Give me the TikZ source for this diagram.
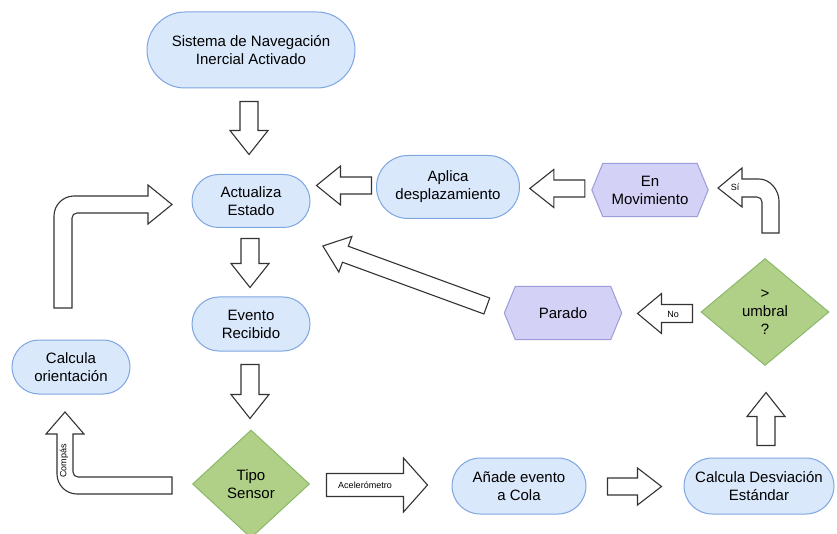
\documentclass[tikz,border=0pt]{standalone}
\usepackage{fontspec}
\setmainfont{Liberation Sans}
\usetikzlibrary{shapes.misc,shapes.geometric,calc,backgrounds}

\definecolor{bluefill}{HTML}{DAE8FC}
\definecolor{bluedraw}{HTML}{7EA6E0}
\definecolor{purplefill}{HTML}{D3D1F5}
\definecolor{purpledraw}{HTML}{9C9CDB}
\definecolor{greenfill}{HTML}{B0D088}
\definecolor{greendraw}{HTML}{8AB86A}
\definecolor{arrowline}{HTML}{333333}

\tikzset{
  every node/.style={font=\fontsize{15}{18}\selectfont, align=center, inner sep=0pt},
  pill/.style={rounded rectangle, draw=bluedraw, fill=bluefill, line width=1pt},
  hexbox/.style={rectangle},
  hexshape/.style={draw=purpledraw, fill=purplefill, line width=1pt},
  decision/.style={diamond, draw=greendraw, fill=greenfill, line width=1pt},
  blockarrow/.style={draw=arrowline, fill=white, line width=1.1pt, line join=miter},
  smalllabel/.style={font=\fontsize{9}{10}\selectfont},
  % straight block arrow: length, half shaft width, half head width
  pics/barrow/.style n args={3}{code={
    \draw[blockarrow] (0,-#2) -- ({#1-24},-#2) -- ({#1-24},-#3) -- (#1,0)
      -- ({#1-24},#3) -- ({#1-24},#2) -- (0,#2) -- cycle;
  }},
}

\begin{document}
\begin{tikzpicture}[x=1pt,y=-1pt]
\path[use as bounding box] (0,0) rectangle (837,534);
\clip (0,0) rectangle (837,534);

% process boxes
\node[pill, minimum width=208, minimum height=76] (sys) at (251,50) {Sistema de Navegación\\Inercial Activado};
\node[pill, minimum width=118, minimum height=53] (act) at (251,201) {Actualiza\\Estado};
\node[pill, minimum width=118, minimum height=54] (evt) at (251,324) {Evento\\Recibido};
\node[pill, minimum width=143, minimum height=63] (apl) at (448,187) {Aplica\\desplazamiento};
\node[pill, minimum width=118, minimum height=54] (ori) at (71,367) {Calcula\\orientación};
\node[pill, minimum width=134, minimum height=56] (cola) at (519,486) {Añade evento\\a Cola};
\node[pill, minimum width=150, minimum height=56] (desv) at (759,486) {Calcula Desviación\\Estándar};

% states
\node[hexbox, minimum width=116, minimum height=53] (mov) at (650,190) {En\\Movimiento};
\node[hexbox, minimum width=117, minimum height=53] (par) at (563,313) {Parado};
\begin{scope}[on background layer]
  \foreach \h in {mov,par}{
    \draw[hexshape] (\h.west) -- ($(\h.north west)+(11,0)$) -- ($(\h.north east)+(-11,0)$)
      -- (\h.east) -- ($(\h.south east)+(-11,0)$) -- ($(\h.south west)+(11,0)$) -- cycle;
  }
\end{scope}

% decisions
\node[decision, minimum width=117, minimum height=108] (tipo) at (251,484) {Tipo\\Sensor};
\node[decision, minimum width=128, minimum height=107] (umb) at (765,312) {>\\umbral\\?};

% straight block arrows
\pic[rotate=-90] at ($(sys.south)+(-2,13)$) {barrow={53}{9}{19}};
\pic[rotate=-90] at ($(act.south)+(-1,10.5)$) {barrow={49}{9}{19}};
\pic[rotate=-90] at ($(evt.south)+(-1,13)$) {barrow={54}{9}{19}};
\pic[rotate=180] at ($(apl.west)+(-4.5,-1.5)$) {barrow={55}{8.5}{19.5}};
\pic[rotate=180] at ($(mov.west)+(-7,-1.5)$) {barrow={55}{8.5}{19}};
\pic[rotate=180] at ($(umb.west)+(-8,1.5)$) {barrow={55}{9}{20}};
\pic[rotate=90] at ($(desv.north)+(7,-12)$) {barrow={53}{9}{19}};
\pic at ($(cola.east)+(21,0.5)$) {barrow={54}{8.5}{18.5}};
\pic at ($(tipo.east)+(16.5,1)$) {barrow={101}{11.5}{27}};
\pic[rotate=159.9] at ($(par.west)+(-17.5,-7)$) {barrow={174.6}{8.5}{19}};

% bent block arrows
\draw[blockarrow] (54,308) -- (54,216) .. controls (54,205) and (63,196) .. (74,196)
  -- (148,196) -- (148,185) -- (172,204.5) -- (148,224) -- (148,213) -- (77,213)
  .. controls (74.2,213) and (72,215.2) .. (72,218) -- (72,308) -- cycle;
\draw[blockarrow] (172,477) -- (78,477) .. controls (75.2,477) and (73,474.8) .. (73,472)
  -- (73,434) -- (84,434) -- (65,412) -- (46,434) -- (57,434) -- (57,474)
  .. controls (57,485) and (66,494) .. (77,494) -- (172,494) -- cycle;
\draw[blockarrow] (762,233) -- (762,202) .. controls (762,199.2) and (759.8,197) .. (757,197)
  -- (742,197) -- (742,207) -- (718,188) -- (742,168) -- (742,179) -- (759,179)
  .. controls (770,179) and (779,190) .. (779,201) -- (779,233) -- cycle;

% arrow labels
\node[smalllabel] (lacc) at (365,485) {Acelerómetro};
\node[smalllabel] (lno) at (673,314) {No};
\node[smalllabel] (lsi) at (735,187) {Sí};
\node[smalllabel, rotate=90] (lcomp) at (64,461) {Compás};
\end{tikzpicture}
\end{document}
